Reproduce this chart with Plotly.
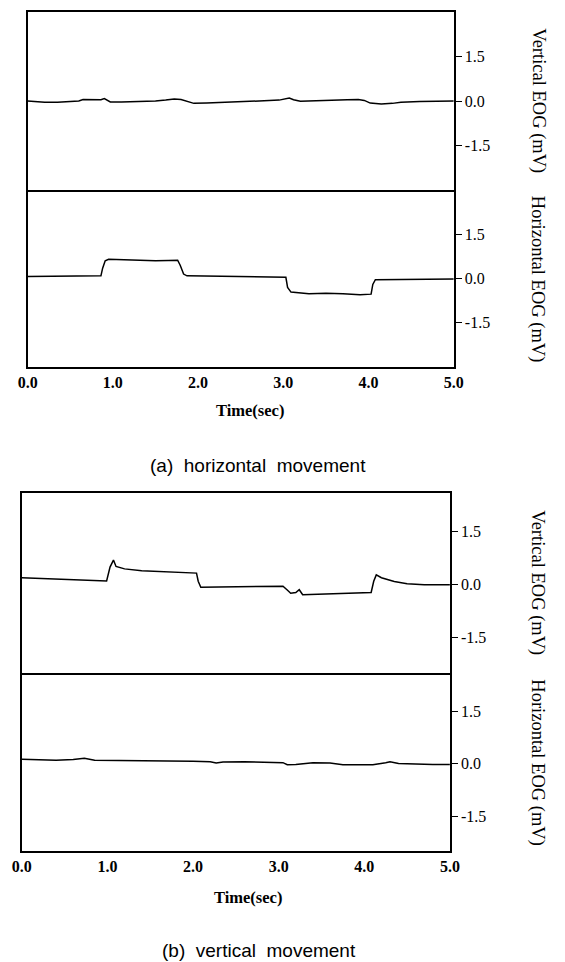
import plotly.graph_objects as go

# ---------------- data ----------------
# (a) horizontal movement - vertical EOG channel
a_vert_t = [0.0, 0.1, 0.2, 0.35, 0.5, 0.6, 0.65, 0.8, 0.86, 0.9, 0.93, 0.97, 1.1, 1.3, 1.5,
            1.62, 1.72, 1.8, 1.88, 1.95, 2.1, 2.3, 2.6, 2.8, 2.95, 3.07, 3.12, 3.2, 3.4, 3.6,
            3.75, 3.88, 3.95, 4.02, 4.15, 4.28, 4.38, 4.6, 4.8, 5.0]
a_vert_v = [0.0, -0.02, -0.04, -0.04, -0.03, 0.0, 0.05, 0.04, 0.04, 0.08, 0.02, -0.03, -0.03, -0.02, 0.0,
            0.03, 0.07, 0.05, -0.03, -0.08, -0.07, -0.05, -0.03, 0.0, 0.03, 0.1, 0.04, -0.01, 0.0, 0.01,
            0.04, 0.05, 0.02, -0.07, -0.1, -0.08, -0.04, -0.02, 0.0, 0.0]
# (a) horizontal movement - horizontal EOG channel
a_horz_t = [0.0, 0.3, 0.5, 0.7, 0.86, 0.88, 0.91, 0.95, 1.1, 1.3, 1.5, 1.65, 1.76, 1.79, 1.83, 1.87,
            2.2, 2.6, 3.03, 3.05, 3.09, 3.3, 3.5, 3.7, 3.9, 4.03, 4.05, 4.08, 4.3, 4.6, 4.8, 5.0]
a_horz_v = [0.07, 0.08, 0.1, 0.1, 0.09, 0.35, 0.6, 0.65, 0.63, 0.61, 0.6, 0.61, 0.62, 0.45, 0.15, 0.09,
            0.07, 0.05, 0.04, -0.3, -0.46, -0.52, -0.5, -0.52, -0.55, -0.53, -0.2, -0.04, -0.03, -0.02, -0.03, -0.02]
# (b) vertical movement - vertical EOG channel
b_vert_t = [0.0, 0.3, 0.6, 0.8, 0.99, 1.03, 1.07, 1.1, 1.2, 1.4, 1.7, 1.9, 2.04, 2.06, 2.09, 2.3,
            2.6, 2.9, 3.05, 3.1, 3.14, 3.2, 3.24, 3.28, 3.4, 3.7, 3.9, 4.08, 4.11, 4.14, 4.2,
            4.35, 4.5, 4.7, 5.0]
b_vert_v = [0.2, 0.17, 0.14, 0.12, 0.11, 0.5, 0.7, 0.52, 0.45, 0.4, 0.36, 0.35, 0.33, 0.1, -0.07, -0.06,
            -0.05, -0.04, -0.04, -0.15, -0.24, -0.22, -0.14, -0.28, -0.27, -0.24, -0.23, -0.22, 0.1, 0.28, 0.2,
            0.09, 0.03, 0.0, 0.0]
# (b) vertical movement - horizontal EOG channel
b_horz_t = [0.0, 0.2, 0.4, 0.6, 0.73, 0.85, 1.1, 1.4, 1.7, 2.0, 2.2, 2.27, 2.35, 2.6, 2.9, 3.05,
            3.1, 3.2, 3.4, 3.6, 3.75, 3.9, 4.1, 4.25, 4.3, 4.4, 4.6, 4.8, 5.0]
b_horz_v = [0.13, 0.11, 0.1, 0.12, 0.16, 0.1, 0.1, 0.09, 0.08, 0.07, 0.06, 0.02, 0.05, 0.06, 0.05, 0.03,
            -0.03, -0.02, 0.03, 0.02, -0.03, -0.03, -0.03, 0.03, 0.06, 0.01, -0.01, -0.02, -0.02]

x_ticks = [0, 1, 2, 3, 4, 5]
x_tick_labels = ["0.0", "1.0", "2.0", "3.0", "4.0", "5.0"]
y_ticks = [-1.5, 0.0, 1.5]
y_tick_labels = ["-1.5", "0.0", "1.5"]
y_titles = ["Vertical EOG (mV)", "Horizontal EOG (mV)"]
x_title = "Time(sec)"
captions = ["(a)  horizontal  movement", "(b)  vertical  movement"]

# ---------------- layout geometry ----------------
# The page body has an 8px default margin, so the figure is sized to fit
# inside the window and window-pixel positions are converted accordingly.
OFF = 8
W, H = 565 - OFF, 962 - OFF

def fx(p):
    return (p - OFF) / W

def fy(p):
    return 1 - (p - OFF) / H

SERIF = "Liberation Serif, Times New Roman, serif"
SANS = "Liberation Sans, Arial, sans-serif"

panels = [
    # (x0, x1, ytop, ybottom, yrange, t, v, is lower panel)
    (18, 460, 12, 190, [-3.0, 3.0], a_vert_t, a_vert_v, False),
    (18, 460, 190, 367, [-3.0, 3.0], a_horz_t, a_horz_v, True),
    (12, 456, 493, 673, [-2.5, 2.6], b_vert_t, b_vert_v, False),
    (12, 456, 673, 851, [-2.5, 2.6], b_horz_t, b_horz_v, True),
]

LW = 1.8
fig = go.Figure()
layout = dict(
    width=W, height=H, margin=dict(l=0, r=0, t=0, b=0),
    paper_bgcolor="white", plot_bgcolor="white", showlegend=False,
)
for i, (x0, x1, yt, yb, yr, t, v, lower) in enumerate(panels, start=1):
    xa = "x" if i == 1 else f"x{i}"
    ya = "y" if i == 1 else f"y{i}"
    fig.add_trace(go.Scatter(x=t, y=v, mode="lines", xaxis=xa, yaxis=ya,
                             line=dict(color="black", width=1.5), hoverinfo="skip"))
    layout["xaxis" if i == 1 else f"xaxis{i}"] = dict(
        domain=[fx(x0), fx(x1)], range=[0, 5], anchor=ya,
        showgrid=False, zeroline=False, showline=True,
        mirror=(not lower),  # lower panel's top edge is the upper panel's bottom line
        linecolor="black", linewidth=LW, ticks="",
        tickvals=x_ticks, ticktext=[f"<b>{s}</b>" for s in x_tick_labels], showticklabels=lower,
        tickfont=dict(family=SERIF, size=16, color="black"),
    )
    layout["yaxis" if i == 1 else f"yaxis{i}"] = dict(
        domain=[fy(yb), fy(yt)], range=yr, anchor=xa, side="right",
        showgrid=False, zeroline=False, showline=True, mirror=True,
        linecolor="black", linewidth=LW, ticks="outside", ticklen=6,
        tickcolor="black", tickwidth=1.3,
        tickvals=y_ticks, ticktext=y_tick_labels,
        tickfont=dict(family=SERIF, size=16, color="black"),
    )
fig.update_layout(**layout)

annotations = []
for k, (x0, x1, yt, yb, yr, t, v, lower) in enumerate(panels):
    annotations.append(dict(
        text=y_titles[k % 2], x=fx(547), y=fy((yt + yb) / 2), xref="paper", yref="paper",
        textangle=90, showarrow=False, xanchor="center", yanchor="middle",
        font=dict(family=SERIF, size=18.5, color="black")))
for xc, yc in [(249, 410), (247, 897)]:
    annotations.append(dict(
        text=f"<b>{x_title}</b>", x=fx(xc), y=fy(yc), xref="paper", yref="paper",
        showarrow=False, xanchor="center", yanchor="middle",
        font=dict(family=SERIF, size=16.5, color="black")))
for txt, (xc, yc) in zip(captions, [(257, 465), (258, 950)]):
    annotations.append(dict(
        text=txt, x=fx(xc), y=fy(yc), xref="paper", yref="paper",
        showarrow=False, xanchor="center", yanchor="middle",
        font=dict(family=SANS, size=19, color="black")))
fig.update_layout(annotations=annotations)

fig.write_html("out.html")
